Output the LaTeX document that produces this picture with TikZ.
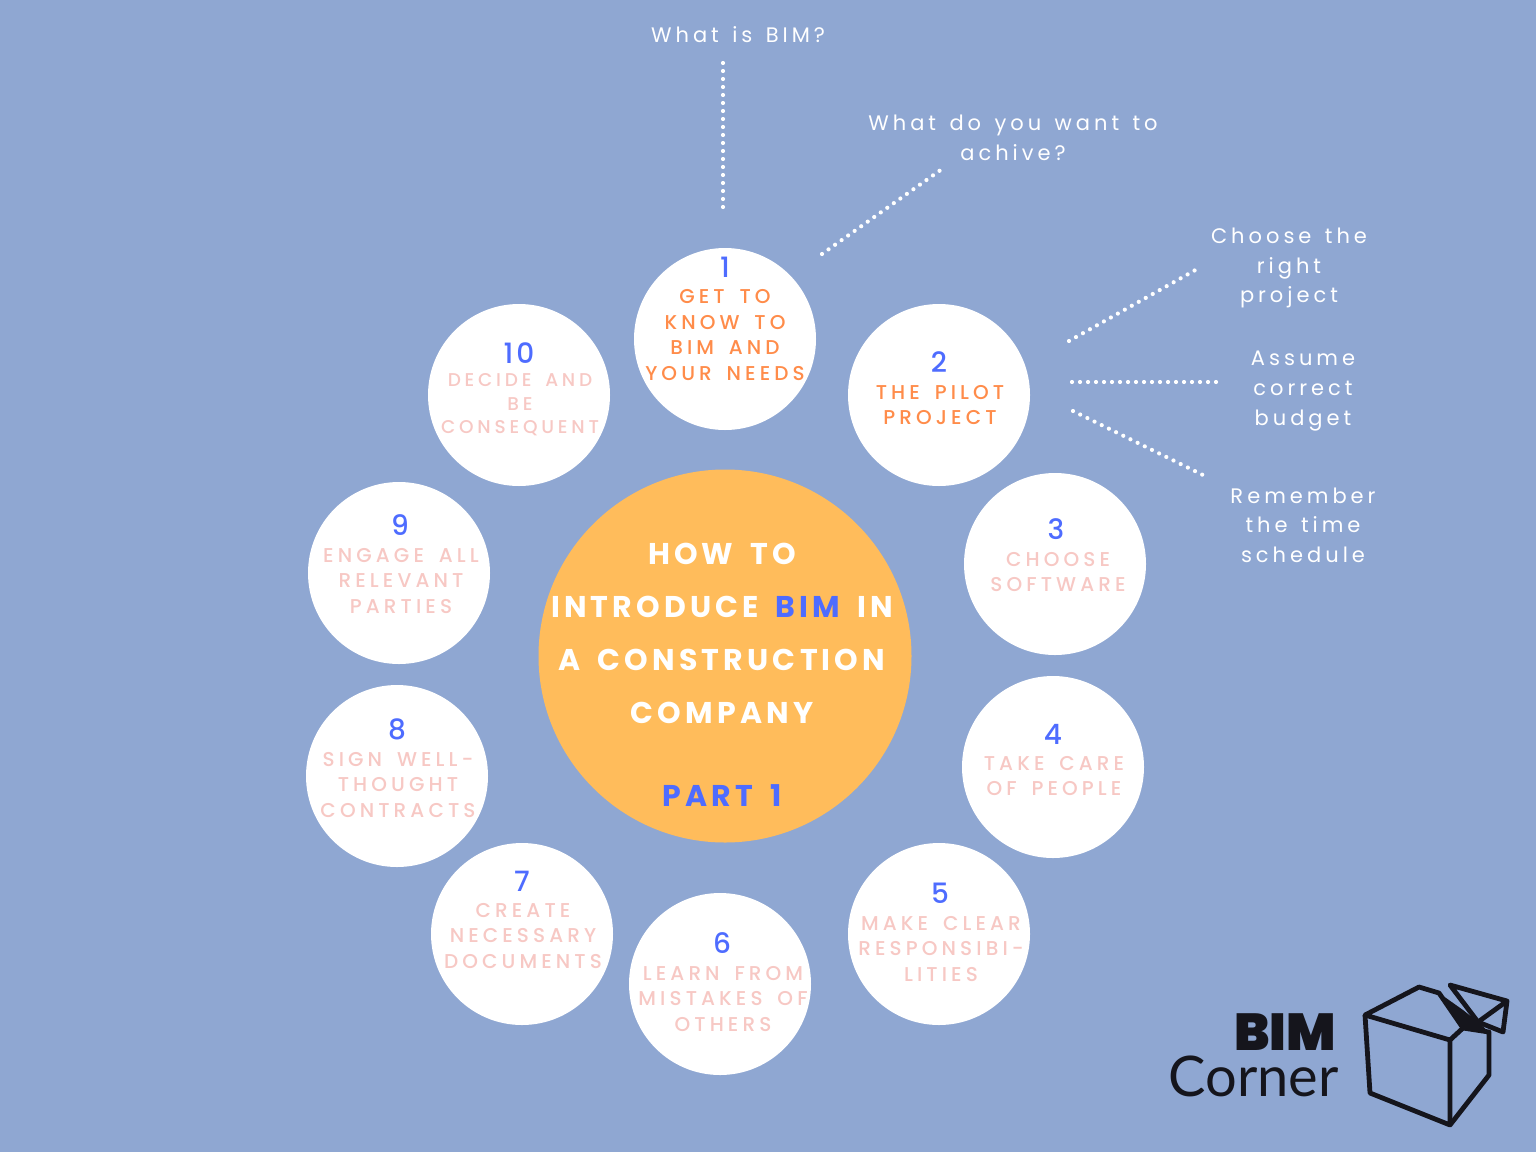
\documentclass[tikz,border=0pt]{standalone}
\usepackage{fontspec}
\usetikzlibrary{positioning}
\setmainfont{Poppins}
\newfontfamily\stepfont[LetterSpace=20.5,WordSpace=1.6]{Poppins Medium}
\newfontfamily\notefont[LetterSpace=19,WordSpace=1.4]{Poppins}
\newfontfamily\titlefont[LetterSpace=14,WordSpace=1.6]{Poppins}
\newfontfamily\numfont{Poppins Medium}
\newfontfamily\logofont{Lato}
\newfontfamily\logoheavy{Poppins Black}
\definecolor{bgblue}{HTML}{8FA7D2}
\definecolor{sunorange}{HTML}{FFBC5B}
\definecolor{numblue}{HTML}{4E6CFF}
\definecolor{doneorange}{HTML}{FF8C4A}
\definecolor{todopink}{HTML}{F7C8C4}
\definecolor{logoblack}{HTML}{15151C}
\tikzset{
stepcircle/.style={
  circle,
  fill=white,
  inner sep=0pt,
  minimum size=182pt
  },
stepnum/.style={
  text=numblue,
  font=\numfont\fontsize{28}{30}\selectfont
  },
steptext/.style={
  text=#1,
  align=center,
  font=\stepfont\fontsize{20}{25.5}\selectfont
  },
notetext/.style={
  text=white,
  align=center,
  font=\notefont\fontsize{21}{29.6}\selectfont
  },
titleline/.style={
  text=#1,
  font=\titlefont\bfseries\fontsize{30}{30}\selectfont
  },
dotline/.style={
  white,
  line width=4.2pt,
  line cap=round,
  dash pattern=on 0pt off 8pt
  },
boxline/.style={
  logoblack,
  line width=4.8pt,
  line join=round
  }
}
\begin{document}
\begin{tikzpicture}[x=1pt,y=-1pt]

\useasboundingbox (0,0) rectangle (1536,1152);
\fill[bgblue] (0,0) rectangle (1536,1152);

\node[circle,fill=sunorange,inner sep=0pt,minimum size=373pt] (hub) at (725,656) {};

\node[titleline=white] (hub1) at (722,553.5) {HOW TO};
\node[titleline=white] (hub2) at (722,606.5) {INTRODUCE \textcolor{numblue}{BIM} IN};
\node[titleline=white] (hub3) at (722,659.5) {A CONSTRUCTION};
\node[titleline=white] (hub4) at (722,712.5) {COMPANY};
\node[titleline=numblue] (hub5) at (722,795.5) {PART 1};

\node[stepcircle] (c1) at (725,339) {};
\node[stepcircle] (c2) at (939,395) {};
\node[stepcircle] (c3) at (1055,564) {};
\node[stepcircle] (c4) at (1053,767) {};
\node[stepcircle] (c5) at (939,934) {};
\node[stepcircle] (c6) at (720,984) {};
\node[stepcircle] (c7) at (522,934) {};
\node[stepcircle] (c8) at (397,776) {};
\node[stepcircle] (c9) at (399,573) {};
\node[stepcircle] (c10) at (519,395) {};

\node[stepnum] (n1) at (725,267) {1};
\node[stepnum] (n2) at (939,362) {2};
\node[stepnum] (n3) at (1056,529) {3};
\node[stepnum] (n4) at (1053,734) {4};
\node[stepnum] (n5) at (940,893) {5};
\node[stepnum] (n6) at (722,943) {6};
\node[stepnum] (n7) at (522,881) {7};
\node[stepnum] (n8) at (397,729) {8};
\node[stepnum] (n9) at (400,525) {9};
\node[stepnum] (n10) at (519,353) {1\kern3pt 0};

\node[steptext=doneorange] (t1) at (725,335) {GET TO\\KNOW TO\\BIM AND\\YOUR NEEDS};
\node[steptext=doneorange] (t2) at (940,405) {THE PILOT\\PROJECT};
\node[steptext=todopink] (t3) at (1058,572) {CHOOSE\\SOFTWARE};
\node[steptext=todopink] (t4) at (1054,776) {TAKE CARE\\OF PEOPLE};
\node[steptext=todopink] (t5) at (941,949) {MAKE CLEAR\\RESPONSIBI-\\LITIES};
\node[steptext=todopink] (t6) at (723,999) {LEARN FROM\\MISTAKES OF\\OTHERS};
\node[steptext=todopink] (t7) at (523,936) {CREATE\\NECESSARY\\DOCUMENTS};
\node[steptext=todopink] (t8) at (398,785) {SIGN WELL-\\THOUGHT\\CONTRACTS};
\node[steptext=todopink] (t9) at (401,581) {ENGAGE ALL\\RELEVANT\\PARTIES};
\node[steptext=todopink,font=\stepfont\fontsize{18.5}{23.6}\selectfont] (t10) at (520,405) {DECIDE AND\\BE\\CONSEQUENT};

\node[notetext] (q1) at (738,35) {What is BIM?};
\node[notetext] (q2) at (1013,138) {What do you want to\\achive?};
\node[notetext] (q3) at (1289,268) {Choose the\\right\\project};
\node[notetext] (q4) at (1303,391) {Assume\\correct\\budget};
\node[notetext] (q5) at (1303,525) {Remember\\the time\\schedule};

\coordinate (d1a) at (723,207);
\coordinate (d1b) at (723,61);
\coordinate (d2a) at (822,254);
\coordinate (d2b) at (942,169);
\coordinate (d3a) at (1069,341);
\coordinate (d3b) at (1199,268);
\coordinate (d4a) at (1072,382);
\coordinate (d4b) at (1222,382);
\coordinate (d5a) at (1073,411);
\coordinate (d5b) at (1207,477);

\draw[dotline] (d1a) -- (d1b);
\draw[dotline] (d2a) -- (d2b);
\draw[dotline] (d3a) -- (d3b);
\draw[dotline] (d4a) -- (d4b);
\draw[dotline] (d5a) -- (d5b);

\node[anchor=south east,inner sep=0pt,align=right,text=logoblack,font=\fontsize{56}{46}\selectfont] (logo) at (1339,1097) {{\logoheavy\fontsize{52}{46}\selectfont BIM\kern3pt}\\{\logofont\fontsize{56}{46}\selectfont Corner}};

\draw[boxline] (1365,1015) -- (1419,987) -- (1439,993) -- (1463,1028) -- (1450,1040) -- cycle;
\draw[boxline] (1365,1015) -- (1370,1093) -- (1450,1125) -- (1450,1040);
\draw[boxline] (1450,1125) -- (1489,1075) -- (1489,1032) -- (1463,1028);
\draw[boxline] (1450,985) -- (1507,1001) -- (1503,1032) -- (1478,1022) -- cycle;
\draw[boxline] (1507,1001) -- (1478,1022);
\fill[logoblack] (1439,993) -- (1463,1010) -- (1478,1022) -- (1489,1032) -- (1463,1028) -- cycle;

\end{tikzpicture}
\end{document}
